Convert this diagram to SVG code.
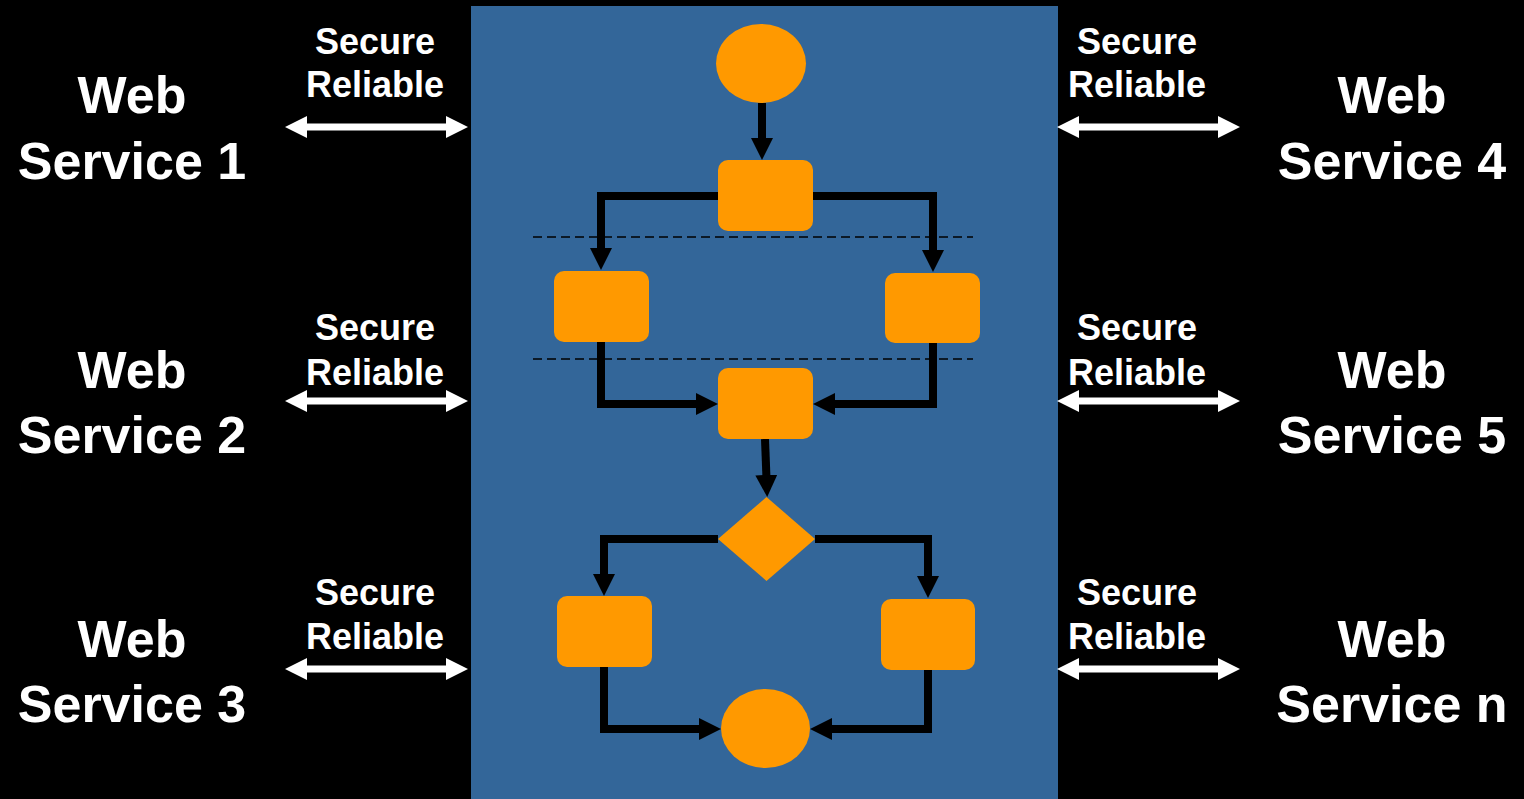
<svg xmlns="http://www.w3.org/2000/svg" width="1524" height="799" viewBox="0 0 1524 799">
<style>
.ws{font-family:"Liberation Sans",Arial,sans-serif;font-weight:bold;font-size:52px;fill:#fff;text-anchor:middle}
.lb{font-family:"Liberation Sans",Arial,sans-serif;font-weight:bold;font-size:36px;fill:#fff;text-anchor:middle}
.shape{fill:#FF9900}
.conn{fill:none;stroke:#000;stroke-width:8;stroke-linejoin:miter;marker-end:url(#ah)}
.dash{stroke:#000;stroke-width:1.5;stroke-dasharray:9 5;fill:none}
</style>
<defs>
<marker id="ah" viewBox="0 0 22 22" refX="1" refY="11" markerWidth="22" markerHeight="22" markerUnits="userSpaceOnUse" orient="auto">
<path d="M0,0 L22,11 L0,22 z" fill="#000"/>
</marker>
<path id="dbl" d="M0,0 L22,-11 L22,-3.5 L161,-3.5 L161,-11 L183,0 L161,11 L161,3.5 L22,3.5 L22,11 z" fill="#fff"/>
</defs>
<rect x="0" y="0" width="1524" height="799" fill="#000"/>
<rect id="process" x="471" y="6" width="587" height="793" fill="#336699"/>

<g id="dividers">
<line class="dash" x1="533" y1="237" x2="973" y2="237"/>
<line class="dash" x1="533" y1="359" x2="973" y2="359"/>
</g>

<g id="connectors">
<path class="conn" d="M762,103 V139"/>
<path class="conn" d="M718,196 H601 V249"/>
<path class="conn" d="M813,196 H933 V251"/>
<path class="conn" d="M601,342 V404 H697"/>
<path class="conn" d="M933,343 V404 H834"/>
<path class="conn" d="M765,439 L766.4,476"/>
<path class="conn" d="M718,539 H604 V575"/>
<path class="conn" d="M815,539 H928 V577"/>
<path class="conn" d="M604,667 V729 H700"/>
<path class="conn" d="M928,670 V729 H831"/>
</g>

<g id="start"><ellipse class="shape" cx="761" cy="63.5" rx="45" ry="39.5"/></g>
<g id="task1"><rect class="shape" x="718" y="160" width="95" height="71" rx="10"/></g>
<g id="task2a"><rect class="shape" x="554" y="271" width="95" height="71" rx="10"/></g>
<g id="task2b"><rect class="shape" x="885" y="273" width="95" height="70" rx="10"/></g>
<g id="task3"><rect class="shape" x="718" y="368" width="95" height="71" rx="10"/></g>
<g id="decision"><polygon class="shape" points="766.5,497 815,539 766.5,581 718,539"/></g>
<g id="task4a"><rect class="shape" x="557" y="596" width="95" height="71" rx="10"/></g>
<g id="task4b"><rect class="shape" x="881" y="599" width="94" height="71" rx="10"/></g>
<g id="end"><ellipse class="shape" cx="765.5" cy="728.5" rx="44.5" ry="39.5"/></g>

<g id="links">
<use href="#dbl" transform="translate(285,127)"/>
<use href="#dbl" transform="translate(285,401)"/>
<use href="#dbl" transform="translate(285,669)"/>
<use href="#dbl" transform="translate(1057,127)"/>
<use href="#dbl" transform="translate(1057,401)"/>
<use href="#dbl" transform="translate(1057,669)"/>
<text class="lb" x="375" y="54">Secure</text>
<text class="lb" x="375" y="97">Reliable</text>
<text class="lb" x="375" y="340">Secure</text>
<text class="lb" x="375" y="385">Reliable</text>
<text class="lb" x="375" y="605">Secure</text>
<text class="lb" x="375" y="649">Reliable</text>
<text class="lb" x="1137" y="54">Secure</text>
<text class="lb" x="1137" y="97">Reliable</text>
<text class="lb" x="1137" y="340">Secure</text>
<text class="lb" x="1137" y="385">Reliable</text>
<text class="lb" x="1137" y="605">Secure</text>
<text class="lb" x="1137" y="649">Reliable</text>
</g>

<g id="ws1"><text class="ws" x="132" y="113">Web</text><text class="ws" x="132" y="179">Service 1</text></g>
<g id="ws2"><text class="ws" x="132" y="388">Web</text><text class="ws" x="132" y="453">Service 2</text></g>
<g id="ws3"><text class="ws" x="132" y="657">Web</text><text class="ws" x="132" y="722">Service 3</text></g>
<g id="ws4"><text class="ws" x="1392" y="113">Web</text><text class="ws" x="1392" y="179">Service 4</text></g>
<g id="ws5"><text class="ws" x="1392" y="388">Web</text><text class="ws" x="1392" y="453">Service 5</text></g>
<g id="wsn"><text class="ws" x="1392" y="657">Web</text><text class="ws" x="1392" y="722">Service n</text></g>
</svg>
